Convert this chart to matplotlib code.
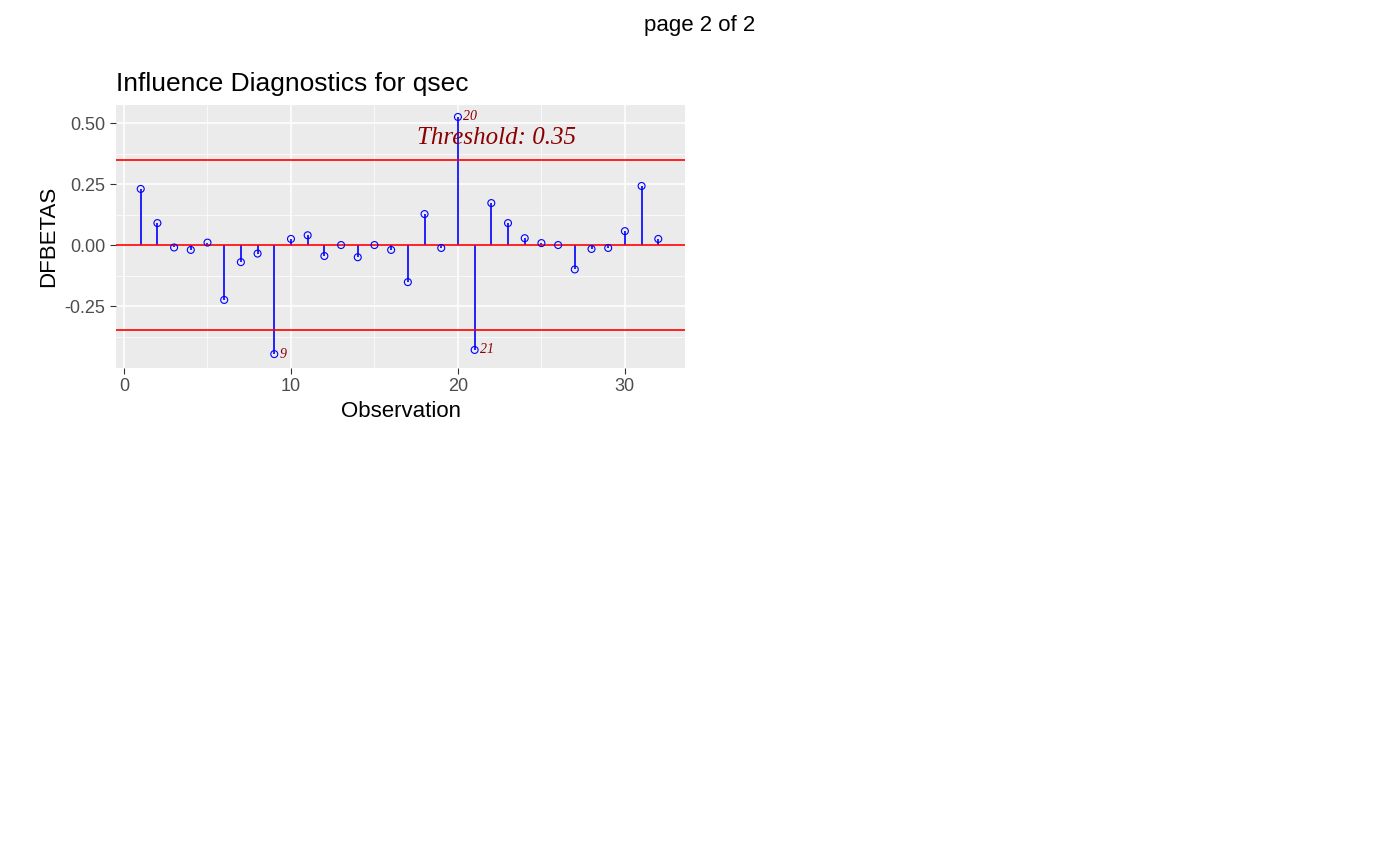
import matplotlib
matplotlib.use("Agg")
import matplotlib.pyplot as plt
plt.rcParams['font.family'] = ['Liberation Sans', 'DejaVu Sans']

obs = list(range(1, 33))
dfbetas = [0.23, 0.09, -0.01, -0.02, 0.01, -0.225, -0.07, -0.035, -0.447, 0.025,
           0.04, -0.045, 0.0, -0.05, 0.0, -0.02, -0.152, 0.127, -0.012, 0.525,
           -0.43, 0.172, 0.09, 0.028, 0.008, 0.0, -0.1, -0.016, -0.012, 0.057,
           0.242, 0.025]
threshold = 0.35
outliers = [9, 20, 21]

fig = plt.figure(figsize=(14, 8.66), dpi=100)
fig.text(0.5, 1 - 25/866, "page 2 of 2", ha="center", va="center", fontsize=16)
ax = fig.add_axes([116/1400, 1 - 368/866, (685-116)/1400, (368-105)/866])
ax.set_facecolor("#EBEBEB")
for s in ax.spines.values():
    s.set_visible(False)
ax.set_xlim(-0.48, 33.6)
ax.set_ylim(-0.504, 0.574)
ax.set_xticks([0, 10, 20, 30])
ax.set_yticks([-0.25, 0, 0.25, 0.5])
ax.set_yticklabels(["-0.25", "0.00", "0.25", "0.50"])
ax.set_xticks([5, 15, 25], minor=True)
ax.set_yticks([-0.375, -0.125, 0.125, 0.375], minor=True)
ax.grid(True, which="major", color="white", lw=1.1)
ax.grid(True, which="minor", color="white", lw=0.5)
ax.set_axisbelow(True)
ax.tick_params(which="major", colors="#333333", labelsize=13, length=4)
ax.tick_params(which="minor", length=0)
for t in ax.get_xticklabels() + ax.get_yticklabels():
    t.set_color("#4D4D4D")

ax.vlines(obs, 0, dfbetas, color="blue", lw=1.2)
ax.scatter(obs, dfbetas, s=25, facecolors="none", edgecolors="blue", lw=0.8, zorder=3)
ax.axhline(0, color="red", lw=1.2)
ax.axhline(threshold, color="red", lw=1.2)
ax.axhline(-threshold, color="red", lw=1.2)
for o in outliers:
    ax.text(o + 0.3, dfbetas[o-1], str(o), color="darkred", fontsize=10,
            style="italic", family="Liberation Serif", ha="left", va="center")
ax.text(22.3, 0.44, f"Threshold: {threshold}", color="darkred", fontsize=18,
        style="italic", family="Liberation Serif", ha="center", va="center")
ax.set_xlabel("Observation", fontsize=16)
ax.set_ylabel("DFBETAS", fontsize=16)
ax.set_title("Influence Diagnostics for qsec", loc="left", fontsize=19, pad=10)
fig.savefig("out.png", dpi=100)
